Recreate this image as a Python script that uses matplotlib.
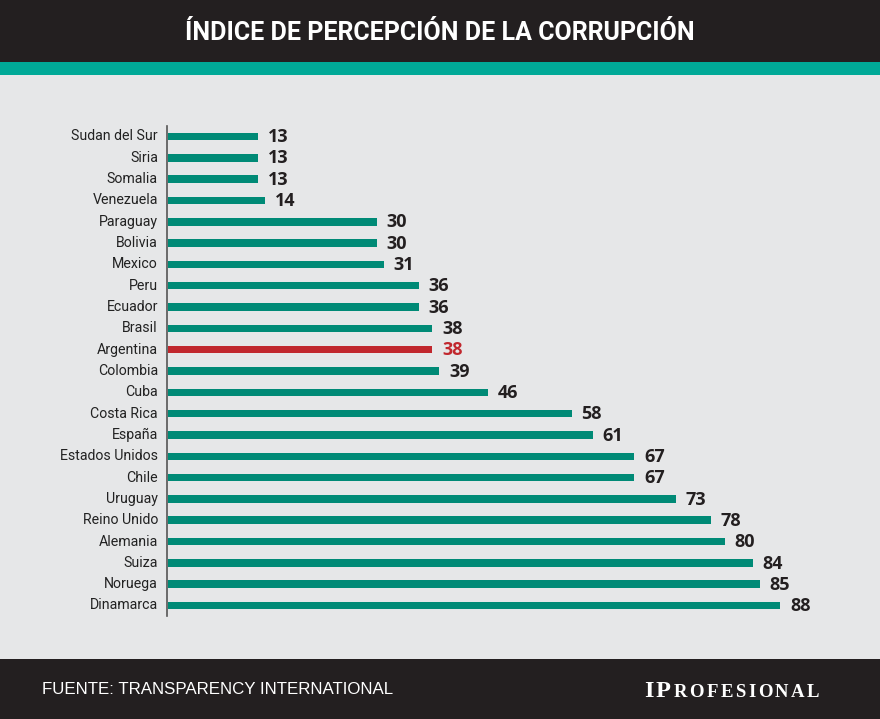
import matplotlib
matplotlib.use("Agg")
import matplotlib.pyplot as plt
from matplotlib.patches import Rectangle

countries = ["Sudan del Sur", "Siria", "Somalia", "Venezuela", "Paraguay", "Bolivia",
             "Mexico", "Peru", "Ecuador", "Brasil", "Argentina", "Colombia", "Cuba",
             "Costa Rica", "España", "Estados Unidos", "Chile", "Uruguay", "Reino Unido",
             "Alemania", "Suiza", "Noruega", "Dinamarca"]
values = [13, 13, 13, 14, 30, 30, 31, 36, 36, 38, 38, 39, 46, 58, 61, 67, 67, 73, 78, 80, 84, 85, 88]
highlight = "Argentina"

title = "ÍNDICE DE PERCEPCIÓN DE LA CORRUPCIÓN"
source = "FUENTE: TRANSPARENCY INTERNATIONAL"

W, H = 880, 719
BG = "#e6e7e8"
DARK = "#231f20"
TEAL_STRIPE = "#00a997"
BAR = "#008a76"
RED = "#c1272d"

fig = plt.figure(figsize=(W / 100, H / 100), dpi=100)
fig.patch.set_facecolor(BG)

def px_rect(x0, y0, x1, y1, color):
    fig.patches.append(Rectangle((x0 / W, 1 - y1 / H), (x1 - x0) / W, (y1 - y0) / H,
                                 transform=fig.transFigure, facecolor=color,
                                 edgecolor="none", zorder=0))

px_rect(0, 0, W, 62, DARK)
px_rect(0, 62, W, 75, TEAL_STRIPE)
px_rect(0, 659, W, H, DARK)

fig.text(440 / W, 1 - 33 / H, title, color="white", fontsize=18, fontweight="bold",
         family="Roboto", ha="center", va="center")
fig.text(42 / W, 1 - 689 / H, source, color="white", fontsize=12.2,
         family="Liberation Sans", ha="left", va="center")

# logo: "IP" large + "ROFESIONAL" small caps, letter-spaced
fig.canvas.draw()
renderer = fig.canvas.get_renderer()
x = 644.0
base_y = 1 - 697 / H
for i, ch in enumerate("IPROFESIONAL"):
    size = 17.5 if i < 2 else 13.5
    t = fig.text(x / W, base_y, ch, color="white", fontsize=size, fontweight="bold",
                 family="Liberation Serif", ha="left", va="baseline")
    bb = t.get_window_extent(renderer)
    x = bb.x1 + 2.5

# axes: x zero at 168 px, 6.96 px per unit; rows 136.5..605.5 px
left_px, right_px = 168, 880
step = (605.5 - 136.5) / 22
top_px, bot_px = 136.5 - step / 2, 605.5 + step / 2
ax = fig.add_axes([left_px / W, 1 - bot_px / H, (right_px - left_px) / W, (bot_px - top_px) / H])
ax.set_facecolor("none")
ax.set_xlim(0, (right_px - left_px) / 6.96)
n = len(countries)
ax.set_ylim(n - 0.5, -0.5)

ypos = list(range(n))
colors = [RED if c == highlight else BAR for c in countries]
ax.barh(ypos, values, height=0.35, color=colors, zorder=2)

for y, c, v in zip(ypos, countries, values):
    ax.text(-1.45, y, c, ha="right", va="center", fontsize=10.2, family="Roboto", color="#222222")
    ax.text(v + 1.4, y + 0.03, str(v), ha="left", va="center", fontsize=13, fontweight="bold",
            family="Open Sans", color=RED if c == highlight else "#231f20")

for s in ["top", "right", "bottom"]:
    ax.spines[s].set_visible(False)
ax.spines["left"].set_color("#555555")
ax.spines["left"].set_linewidth(1.2)
ax.spines["left"].set_position(("data", -0.2))
ax.set_xticks([])
ax.set_yticks([])

fig.savefig("out.png", dpi=100, facecolor=BG)
